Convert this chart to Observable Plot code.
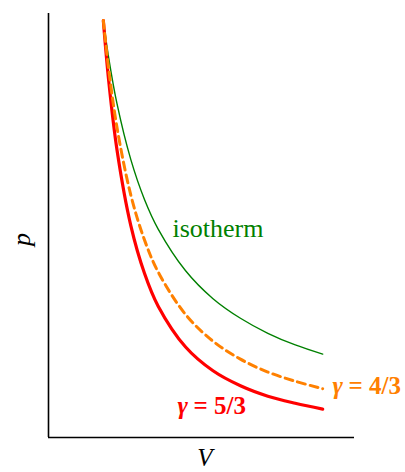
<!DOCTYPE html>
<html>
<head>
<meta charset="utf-8">
<script src="https://cdn.jsdelivr.net/npm/d3@7"></script>
<script src="https://cdn.jsdelivr.net/npm/@observablehq/plot@0.6"></script>
<style>
  html, body { margin: 0; padding: 0; background: #fff; }
  svg { display: block; }
</style>
</head>
<body>
<div id="chart"></div>
<script>
// Volume samples and pressure of each curve
const volumes   = [1, 1.1, 1.25, 1.5, 1.75, 2, 2.5, 3, 3.5, 4, 4.5, 5];
const isotherm  = [1, 0.909, 0.8, 0.667, 0.571, 0.5, 0.4, 0.333, 0.286, 0.25, 0.222, 0.2];
const gamma43   = [1, 0.881, 0.743, 0.582, 0.474, 0.397, 0.295, 0.231, 0.188, 0.157, 0.135, 0.117];
const gamma53   = [1, 0.853, 0.689, 0.509, 0.394, 0.315, 0.217, 0.160, 0.124, 0.099, 0.082, 0.068];
const seriesNames = ["isotherm", "γ = 4/3", "γ = 5/3"];
const axisLabels = ["V", "p"];

const toRows = (vals) => volumes.map((v, i) => ({V: v, p: vals[i]}));
const isoRows = toRows(isotherm);
const g43Rows = toRows(gamma43);
const g53Rows = toRows(gamma53);

const serif = "'Liberation Serif', 'Times New Roman', serif";

const chart = Plot.plot({
  width: 405,
  height: 472,
  marginLeft: 48,
  marginRight: 51,
  marginTop: 13,
  marginBottom: 35,
  x: {domain: [0, 5.58], axis: null},
  y: {domain: [0, 1.017], axis: null},
  style: {fontFamily: serif, background: "#fff"},
  marks: [
    Plot.ruleX([0], {stroke: "#000", strokeWidth: 1.6}),
    Plot.ruleY([0], {stroke: "#000", strokeWidth: 1.6}),
    Plot.line(isoRows, {x: "V", y: "p", stroke: "#008000", strokeWidth: 1.4, curve: "catmull-rom"}),
    Plot.line(g53Rows, {x: "V", y: "p", stroke: "#ff0000", strokeWidth: 3.2, curve: "catmull-rom"}),
    Plot.line(g43Rows, {x: "V", y: "p", stroke: "#ff8000", strokeWidth: 3, strokeDasharray: "8,5", curve: "catmull-rom"}),
    // curve labels
    Plot.text([seriesNames[0]], {x: 2.261, y: 0.48, text: d => d, textAnchor: "start", lineAnchor: "bottom", fill: "#008000", fontSize: 26}),
    Plot.text(["γ"], {x: 5.18, y: 0.1055, text: d => d, textAnchor: "start", lineAnchor: "bottom", fill: "#ff8000", fontSize: 25, fontWeight: "bold", fontStyle: "italic"}),
    Plot.text([seriesNames[1].slice(2)], {x: 5.18, y: 0.1055, dx: 16, text: d => d, textAnchor: "start", lineAnchor: "bottom", fill: "#ff8000", fontSize: 25, fontWeight: "bold"}),
    Plot.text(["γ"], {x: 2.352, y: 0.0552, text: d => d, textAnchor: "start", lineAnchor: "bottom", fill: "#ff0000", fontSize: 25, fontWeight: "bold", fontStyle: "italic"}),
    Plot.text([seriesNames[2].slice(2)], {x: 2.352, y: 0.0552, dx: 16, text: d => d, textAnchor: "start", lineAnchor: "bottom", fill: "#ff0000", fontSize: 25, fontWeight: "bold"}),
    // axis labels
    Plot.text([axisLabels[0]], {x: 2.854, y: -0.0672, text: d => d, textAnchor: "middle", lineAnchor: "bottom", fill: "#000", fontSize: 25, fontStyle: "italic"}),
    Plot.text([axisLabels[1]], {x: -0.49, y: 0.475, text: d => d, textAnchor: "middle", lineAnchor: "middle", rotate: -90, fill: "#000", fontSize: 26, fontStyle: "italic"})
  ]
});
document.getElementById("chart").appendChild(chart);
</script>
</body>
</html>
